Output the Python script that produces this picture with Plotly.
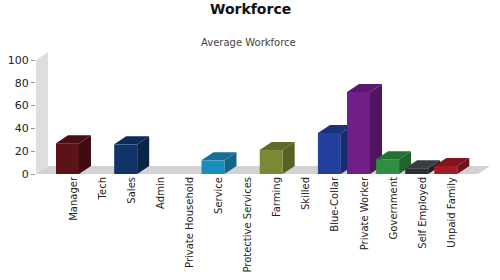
import plotly.graph_objects as go

categories = ["Manager", "Tech", "Sales", "Admin", "Private Household", "Service",
              "Protective Services", "Farming", "Skilled", "Blue-Collar",
              "Private Worker", "Government", "Self Employed", "Unpaid Family"]
values = [27, 0, 26, 0, 0, 12, 0, 21, 0, 36, 72, 13, 5, 7]
front_colors = ["#5c1318", None, "#10356a", None, None, "#1b8dbd", None, "#7b8834", None,
                "#22409c", "#701f88", "#2f8e40", "#2b2e35", "#a31b24"]
top_colors = ["#4a0f13", None, "#0d2b56", None, None, "#156f96", None, "#606b29", None,
              "#1b337c", "#5b196e", "#257133", "#3a3d45", "#80151c"]
side_colors = ["#410c10", None, "#0b2549", None, None, "#146586", None, "#586225", None,
               "#182d6c", "#51155f", "#21652d", "#1f2126", "#71121a"]
y_ticks = [0, 20, 40, 60, 80, 100]

# geometry (pixels -> data units)
px_per_cat = 29.1
px_per_unit = 1.14
left_px, right_px, top_px, bottom_px = 36, 492, 50, 174
W, H = 500, 280
x0 = -(67.5 - left_px) / px_per_cat
x1 = x0 + (right_px - left_px) / px_per_cat
ymax = (bottom_px - top_px) / px_per_unit
ddx = 12 / px_per_cat
ddy = 8 / px_per_unit
half = 0.395
floor_right = (478 - 67.5) / px_per_cat

fig = go.Figure()

def poly(xs, ys, color):
    fig.add_trace(go.Scatter(x=xs + [xs[0]], y=ys + [ys[0]], mode="lines", fill="toself",
                             fillcolor=color, line=dict(width=0, color=color),
                             hoverinfo="skip", showlegend=False))

# wall and floor
poly([x0, x0, x0 + ddx, x0 + ddx], [0, 100, 100 + ddy, ddy], "#dedede")
poly([x0, floor_right, floor_right + ddx, x0 + ddx], [0, 0, ddy, ddy], "#d2d2d2")

for i, v in enumerate(values):
    if v <= 0:
        continue
    l, r = i - half, i + half
    poly([r, r + ddx, r + ddx, r], [0, ddy, v + ddy, v], side_colors[i])
    poly([l, r, r + ddx, l + ddx], [v, v, v + ddy, v + ddy], top_colors[i])
    poly([l, r, r, l], [0, 0, v, v], front_colors[i])

plot_w = right_px - left_px
plot_h = bottom_px - top_px

def px_x(p):
    return (p - left_px) / plot_w

def px_y(p):
    return (bottom_px - p) / plot_h

fig.update_layout(
    width=W, height=H,
    margin=dict(l=left_px, r=W - right_px, t=top_px, b=H - bottom_px),
    paper_bgcolor="white", plot_bgcolor="white",
    font=dict(family="DejaVu Sans", size=10, color="#222"),
    xaxis=dict(range=[x0, x1], tickvals=[i + 0.2 for i in range(len(categories))],
               ticktext=categories, tickangle=-90, showgrid=False, zeroline=False,
               showline=False, ticks="", tickfont=dict(size=10, color="#222")),
    yaxis=dict(range=[0, ymax], tickvals=y_ticks, showgrid=False, zeroline=False,
               showline=False, ticks="outside", ticklen=4, tickcolor="#999",
               tickfont=dict(size=11, color="#222")),
    annotations=[
        dict(text="<b>Workforce</b>", x=px_x(250), y=px_y(9), xref="paper", yref="paper",
             showarrow=False, yanchor="middle", font=dict(size=14, color="#111")),
        dict(text="Average Workforce", x=px_x(248), y=px_y(42), xref="paper", yref="paper",
             showarrow=False, yanchor="middle", font=dict(size=10, color="#444")),
    ],
)

fig.write_html("out.html")
